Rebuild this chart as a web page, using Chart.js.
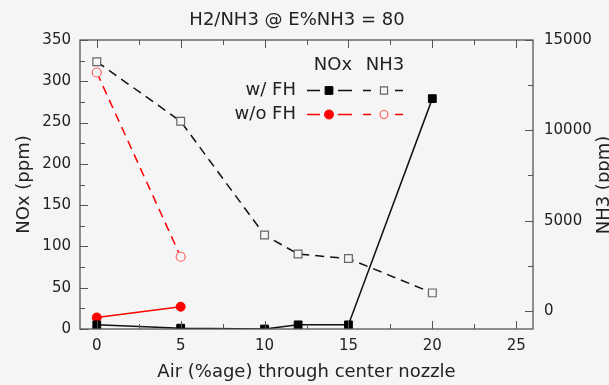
<!DOCTYPE html>
<html>
<head>
<meta charset="utf-8">
<script src="https://cdn.jsdelivr.net/npm/chart.js@4.4.1/dist/chart.umd.min.js"></script>
<style>
html,body{margin:0;padding:0;background:#f5f5f5;}
#wrap{width:609px;height:385px;position:relative;}
</style>
</head>
<body>
<div id="wrap"><canvas id="c" width="609" height="385"></canvas></div>
<script>
// ---- text ----
const titleText = 'H2/NH3 @ E%NH3 = 80';
const xTitle = 'Air (%age) through center nozzle';
const yLeftTitle = 'NOx (ppm)';
const yRightTitle = 'NH3 (ppm)';
const legendCols = ['NOx', 'NH3'];
const legendRows = ['w/ FH', 'w/o FH'];

// ---- data ----
const airWithFH = [0, 5, 10, 12, 15, 20];
const airWithoutFH = [0, 5];
const noxWithFH = [5, 1, 0, 5, 5, 279];
const noxWithoutFH = [14, 27];
const nh3WithFH = [13800, 10500, 4200, 3150, 2900, 1000];
const nh3WithoutFH = [13200, 3000];

// ---- ticks ----
const xTicks = [0, 5, 10, 15, 20, 25];
const xMinorTicks = [2.5, 7.5, 12.5, 17.5, 22.5];
const noxTicks = [0, 50, 100, 150, 200, 250, 300, 350];
const noxMinorTicks = [25, 75, 125, 175, 225, 275, 325];
const nh3Ticks = [0, 5000, 10000, 15000];
const nh3MinorTicks = [2500, 7500, 12500];

const FONT = "'DejaVu Sans', Verdana, sans-serif";
const BG = '#f5f5f5';
const TXT = '#222';
const AXC = '#555';

const pair = (xs, ys) => xs.map((x, i) => ({x: x, y: ys[i]}));

function drawMarker(ctx, style, x, y, r, fill, stroke, lw) {
  ctx.beginPath();
  if (style === 'rect') {
    const s = r * Math.SQRT1_2;
    ctx.rect(x - s, y - s, 2 * s, 2 * s);
  } else {
    ctx.arc(x, y, r, 0, Math.PI * 2);
  }
  ctx.fillStyle = fill; ctx.fill();
  ctx.lineWidth = lw; ctx.strokeStyle = stroke; ctx.stroke();
}

const decorPlugin = {
  id: 'decor',
  afterDatasetsDraw(chart) {
    const {ctx, chartArea: a, scales} = chart;
    const X = scales.x, Y = scales.y, Y1 = scales.y1;
    ctx.save();
    ctx.setLineDash([]);
    ctx.strokeStyle = AXC;
    ctx.lineWidth = 1.3;
    ctx.strokeRect(a.left, a.top, a.right - a.left, a.bottom - a.top);
    ctx.lineWidth = 1;
    ctx.beginPath();
    const M = 8, m = 5;
    const xt = (v, len) => {
      const p = Math.round(X.getPixelForValue(v)) + 0.5;
      ctx.moveTo(p, a.bottom); ctx.lineTo(p, a.bottom - len);
      ctx.moveTo(p, a.top); ctx.lineTo(p, a.top + len);
    };
    const yl = (v, len) => {
      const p = Math.round(Y.getPixelForValue(v)) + 0.5;
      ctx.moveTo(a.left, p); ctx.lineTo(a.left + len, p);
    };
    const yr = (v, len) => {
      const p = Math.round(Y1.getPixelForValue(v)) + 0.5;
      ctx.moveTo(a.right, p); ctx.lineTo(a.right - len, p);
    };
    xTicks.forEach(v => xt(v, M));
    xMinorTicks.forEach(v => xt(v, m));
    noxTicks.forEach(v => yl(v, M));
    noxMinorTicks.forEach(v => yl(v, m));
    nh3Ticks.forEach(v => yr(v, M));
    nh3MinorTicks.forEach(v => yr(v, m));
    ctx.stroke();
    ctx.restore();
  },
  afterDraw(chart) {
    const {ctx} = chart;
    ctx.save();
    ctx.font = '18px ' + FONT;
    ctx.fillStyle = TXT;
    ctx.textAlign = 'center';
    ctx.textBaseline = 'middle';
    // chart title
    ctx.fillText(titleText, 297, 20);
    // right axis title, reading bottom-to-top
    ctx.translate(604, 185);
    ctx.rotate(-Math.PI / 2);
    ctx.fillText(yRightTitle, 0, 0);
    ctx.restore();

    // legend
    ctx.save();
    ctx.setLineDash([]);
    ctx.font = '18px ' + FONT;
    ctx.fillStyle = TXT;
    ctx.textBaseline = 'middle';
    ctx.textAlign = 'center';
    ctx.fillText(legendCols[0], 333, 65);
    ctx.fillText(legendCols[1], 385, 65);
    ctx.textAlign = 'right';
    ctx.fillText(legendRows[0], 296, 90);
    ctx.fillText(legendRows[1], 296, 114);
    const ds = chart.data.datasets;
    const rows = [[ds[0], ds[1]], [ds[2], ds[3]]];
    const ys = [90, 114];
    rows.forEach((r, i) => {
      const y = ys[i] + 0.5;
      const d0 = r[0];
      ctx.strokeStyle = d0.borderColor; ctx.lineWidth = 1.5;
      ctx.beginPath();
      ctx.moveTo(307, y); ctx.lineTo(320, y);
      ctx.moveTo(338, y); ctx.lineTo(352, y);
      ctx.stroke();
      drawMarker(ctx, d0.pointStyle, 329, y, d0.pointRadius, d0.pointBackgroundColor, d0.pointBorderColor, 1);
      const d1 = r[1];
      ctx.strokeStyle = d1.borderColor; ctx.lineWidth = 1.5;
      ctx.beginPath();
      ctx.moveTo(363, y); ctx.lineTo(371, y);
      ctx.moveTo(395, y); ctx.lineTo(403, y);
      ctx.stroke();
      drawMarker(ctx, d1.pointStyle, 384, y, d1.pointRadius - 0.5, d1.pointBackgroundColor, d1.pointBorderColor, 1.2);
    });
    ctx.restore();
  }
};

Chart.defaults.font.family = FONT;
Chart.defaults.color = TXT;

new Chart(document.getElementById('c'), {
  type: 'line',
  data: {
    datasets: [
      {
        label: 'NOx w/ FH', data: pair(airWithFH, noxWithFH), yAxisID: 'y',
        borderColor: '#111', borderWidth: 1.5, tension: 0,
        pointStyle: 'rect', pointRadius: 5.5, pointHoverRadius: 5.5,
        pointBackgroundColor: '#000', pointBorderColor: '#000', pointBorderWidth: 1,
        clip: 0, order: 1
      },
      {
        label: 'NH3 w/ FH', data: pair(airWithFH, nh3WithFH), yAxisID: 'y1',
        borderColor: '#111', borderWidth: 1.5, borderDash: [9, 6], tension: 0,
        pointStyle: 'rect', pointRadius: 5.5, pointHoverRadius: 5.5,
        pointBackgroundColor: BG, pointBorderColor: '#666', pointBorderWidth: 1.2,
        clip: 0, order: 3
      },
      {
        label: 'NOx w/o FH', data: pair(airWithoutFH, noxWithoutFH), yAxisID: 'y',
        borderColor: '#ff0000', borderWidth: 1.5, tension: 0,
        pointStyle: 'circle', pointRadius: 4.5, pointHoverRadius: 4.5,
        pointBackgroundColor: '#ff0000', pointBorderColor: '#ff0000', pointBorderWidth: 1,
        clip: 0, order: 2
      },
      {
        label: 'NH3 w/o FH', data: pair(airWithoutFH, nh3WithoutFH), yAxisID: 'y1',
        borderColor: '#ff0000', borderWidth: 1.5, borderDash: [9, 6], tension: 0,
        pointStyle: 'circle', pointRadius: 4.5, pointHoverRadius: 4.5,
        pointBackgroundColor: BG, pointBorderColor: '#ff6060', pointBorderWidth: 1.2,
        clip: 0, order: 4
      }
    ]
  },
  options: {
    responsive: false,
    animation: false,
    devicePixelRatio: 1,
    layout: {padding: {top: 40, left: 0, right: 0, bottom: 0}},
    plugins: {
      legend: {display: false},
      tooltip: {enabled: false},
      title: {display: false}
    },
    scales: {
      x: {
        type: 'linear', position: 'bottom', min: -1, max: 26,
        afterBuildTicks: s => { s.ticks = xTicks.map(v => ({value: v})); },
        afterFit: s => { s.height = 56; },
        grid: {display: false, drawTicks: false},
        border: {display: false},
        ticks: {font: {size: 15}, color: TXT, padding: 8, maxRotation: 0, autoSkip: false,
                callback: v => String(v)},
        title: {display: true, text: xTitle, color: TXT, font: {size: 18}, padding: {top: 0, bottom: 2}}
      },
      y: {
        type: 'linear', position: 'left', min: 0, max: 350,
        afterBuildTicks: s => { s.ticks = noxTicks.map(v => ({value: v})); },
        afterFit: s => { s.width = 80; },
        grid: {display: false, drawTicks: false},
        border: {display: false},
        ticks: {font: {size: 15}, color: TXT, padding: 9, autoSkip: false, callback: v => String(v)},
        title: {display: true, text: yLeftTitle, color: TXT, font: {size: 18}, padding: {top: 14, bottom: 0}}
      },
      y1: {
        type: 'linear', position: 'right', min: -1000, max: 15000,
        afterBuildTicks: s => { s.ticks = nh3Ticks.map(v => ({value: v})); },
        afterFit: s => { s.width = 76; },
        grid: {display: false, drawTicks: false},
        border: {display: false},
        ticks: {font: {size: 15}, color: TXT, padding: 11, autoSkip: false, callback: v => String(v)}
      }
    }
  },
  plugins: [decorPlugin]
});
</script>
</body>
</html>
